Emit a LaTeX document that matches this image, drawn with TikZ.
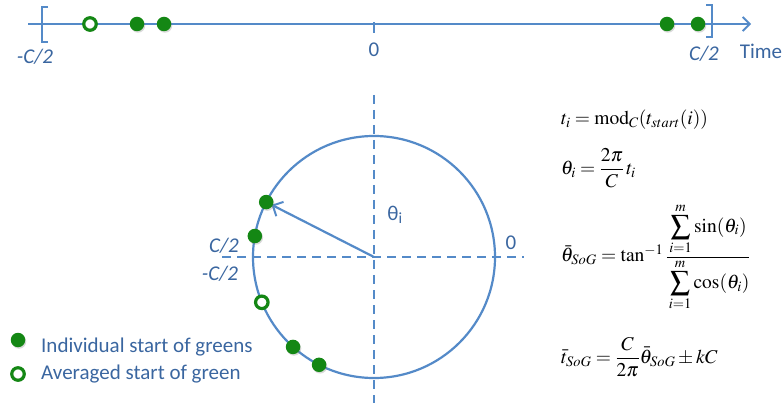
\documentclass[tikz,border=0pt]{standalone}
\usepackage{amsmath}
\usepackage{mathptmx}
\usepackage{fontspec}
\setmainfont{Carlito}
\usetikzlibrary{arrows.meta,shadows}
\definecolor{axblue}{RGB}{84,138,200}
\definecolor{txblue}{RGB}{58,102,160}
\definecolor{dotgreen}{RGB}{20,135,20}
\tikzset{
  axis/.style={draw=axblue,line width=1.5pt},
  dashaxis/.style={draw=axblue,line width=2.2pt,dash pattern=on 9pt off 6pt},
  brack/.style={draw=axblue,line width=2.8pt},
  gdot/.style={circle,fill=dotgreen,minimum size=14.5pt,inner sep=0pt,
    drop shadow={opacity=0.3,shadow xshift=1pt,shadow yshift=-1.5pt}},
  odot/.style={circle,draw=dotgreen,line width=3.2pt,fill=white,minimum size=12.5pt,inner sep=0pt,
    drop shadow={opacity=0.3,shadow xshift=1pt,shadow yshift=-1.5pt}},
  lab/.style={text=txblue,font=\fontsize{21}{24}\selectfont,inner sep=0pt},
  ilab/.style={lab,font=\fontsize{21}{24}\selectfont\itshape},
  eqn/.style={anchor=west,inner sep=0pt,font=\fontsize{19.5}{23}\selectfont}
}
\begin{document}
\begin{tikzpicture}[x=1pt,y=-1pt]
\useasboundingbox (0,0) rectangle (782,406);
% timeline
\coordinate (tl) at (28,24);
\coordinate (tr) at (751,24);
\draw[axis,-{Straight Barb[length=7pt,width=14pt,line width=1.8pt]}] (tl) -- (tr);
\draw[brack] (48,7) -- (42,7) -- (42,42) -- (48,42);
\draw[brack] (706,5) -- (712,5) -- (712,37) -- (706,37);
\draw[brack] (374,22) -- (374,33);
\node[ilab] (lmc) at (35,57) {-C/2};
\node[ilab] (lc) at (704,54) {C/2};
\node[lab] (l0) at (374,50) {0};
\node[lab] (ltime) at (761,51) {Time};
\node[odot] (a0) at (90,24) {};
\node[gdot] (a1) at (137,24) {};
\node[gdot] (a2) at (164,24) {};
\node[gdot] (a3) at (667,24) {};
\node[gdot] (a4) at (698,24) {};
% circle
\coordinate (c) at (374,257);
\coordinate (vt) at (374,95);
\coordinate (vb) at (374,403);
\coordinate (hl) at (222,257);
\coordinate (hr) at (524,257);
\draw[dashaxis] (vt) -- (vb);
\draw[dashaxis] (hl) -- (hr);
\draw[draw=axblue,line width=2.2pt] (c) circle[radius=121];
\path (c) ++(-153:121) coordinate (p1);
\path (c) ++(-170:121) coordinate (p2);
\path (c) ++(-202:121) coordinate (p3);
\path (c) ++(-228:121) coordinate (p4);
\path (c) ++(-243:121) coordinate (p5);
\draw[axis,line width=2.2pt,shorten >=6pt,-{Straight Barb[length=8pt,width=16pt,line width=2pt]}] (c) -- (p1);
\node[gdot] (d1) at (p1) {};
\node[gdot] (d2) at (p2) {};
\node[odot] (d3) at (p3) {};
\node[gdot] (d4) at (p4) {};
\node[gdot] (d5) at (p5) {};
\node[lab] (lth) at (395,215) {θ\textsubscript{i}};
\node[lab] (lz) at (511,243) {0};
\node[ilab] (lc2) at (224,246) {C/2};
\node[ilab] (lmc2) at (220,274) {-C/2};
% legend
\node[gdot] (g1) at (18,340) {};
\node[odot] (g2) at (18,374) {};
\node[lab,anchor=west] (t1) at (41,347) {Individual start of greens};
\node[lab,anchor=west] (t2) at (41,374) {Averaged start of green};
% equations
\node[eqn] (e1) at (561,120) {$t_i = \mathrm{mod}_C(t_{start}(i))$};
\node[eqn] (e2) at (561,168) {$\theta_i = \dfrac{2\pi}{C}\,t_i$};
\node[eqn] (e3) at (561,257) {$\bar\theta_{SoG} = \tan^{-1}\dfrac{\displaystyle\sum_{i=1}^{m}\sin(\theta_i)\rule[-6pt]{0pt}{10pt}}{\rule{0pt}{26pt}\displaystyle\sum_{i=1}^{m}\cos(\theta_i)}$};
\node[eqn] (e4) at (561,357) {$\bar t_{SoG} = \dfrac{C}{2\pi}\bar\theta_{SoG} \pm kC$};
\end{tikzpicture}
\end{document}
